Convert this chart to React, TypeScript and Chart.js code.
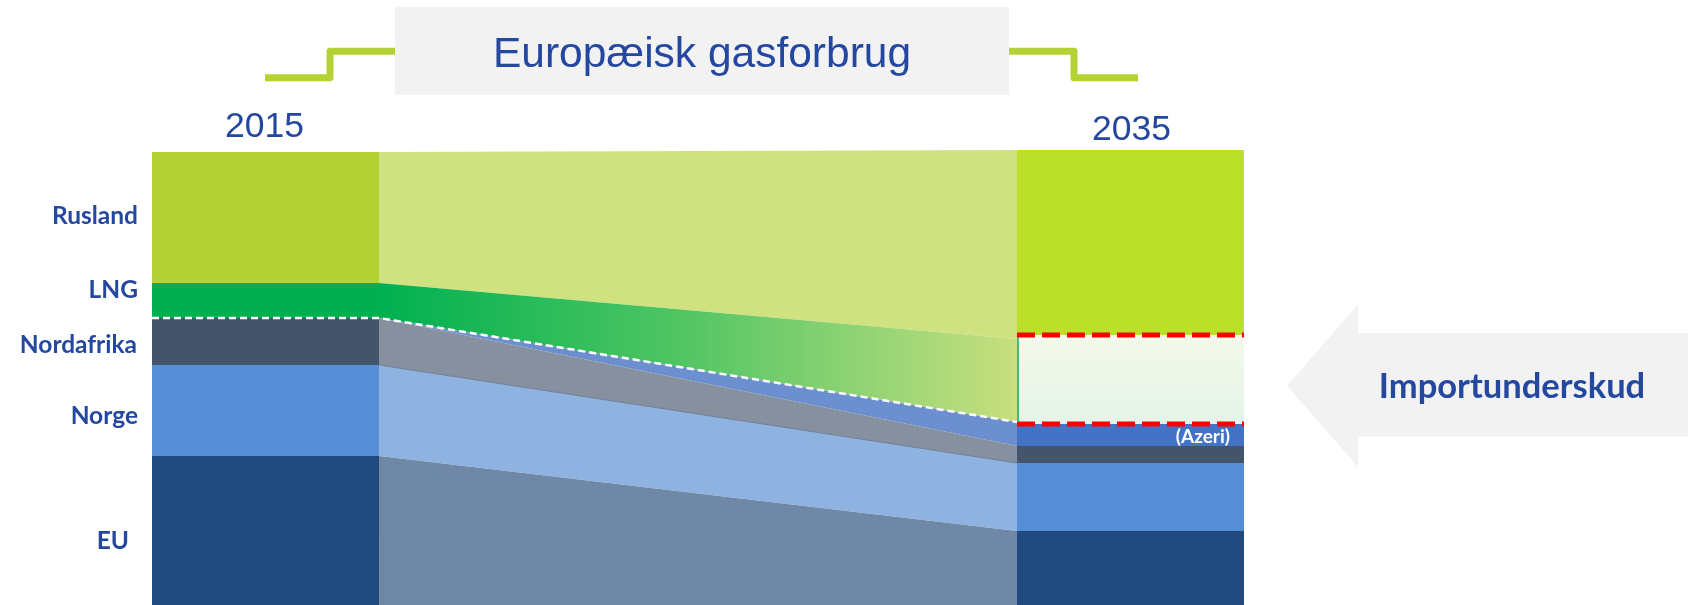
import React, { useEffect, useRef } from "react";
import { Chart, registerables } from "chart.js";

Chart.register(...registerables);

// ---------- DATA ----------
const years = ["2015", "2035"];
// stacked from the bottom up
const layerNames = ["EU", "Norge", "Nordafrika", "Azeri", "LNG", "Rusland"];
const layerNames2035 = ["EU", "Norge", "Nordafrika", "Azeri", "Importunderskud", "Rusland"];
const values2015 = [149, 91, 47, 0, 35, 131];
const transitionEnd = [74, 68, 17, 24, 83, 189];
const values2035 = [74, 68, 17, 22, 89, 185];
const sideLabels = ["Rusland", "LNG", "Nordafrika", "Norge", "EU"];
const titleText = "Europæisk gasforbrug";
const deficitText = "Importunderskud";
const azeriText = "(Azeri)";

// ---------- LAYOUT / STYLE ----------
const X_EDGES = [0, 1, 3.81, 4.81];
const Y_MAX = 455;
const BLUE_TEXT = "#2447a0";

const colors2015 = ["#214b7e", "#558ed5", "#44546a", "#4472c4", "#00b050", "#b4d234"];
const colorsMid = ["#6f88a8", "#8fb3e1", "#87909e", "#6c8fd0", "grad", "#d0e17f"];
const colors2035 = ["#214b7e", "#558ed5", "#44546a", "#4472c4", "vgrad", "#bcdf2a"];

const cum = (vals: number[]) => {
  let s = 0;
  return vals.map((v) => (s += v));
};

function lngGradient(ctx: any) {
  const chart = ctx.chart;
  if (!chart.chartArea) return "#6cc86a";
  const xs = chart.scales.x;
  const g = chart.ctx.createLinearGradient(
    xs.getPixelForValue(X_EDGES[1]), 0, xs.getPixelForValue(X_EDGES[2]), 0
  );
  g.addColorStop(0, "#00b050");
  g.addColorStop(0.45, "#4cc462");
  g.addColorStop(0.75, "#8fd374");
  g.addColorStop(1, "#c8df7d");
  return g;
}

function deficitGradient(ctx: any) {
  const chart = ctx.chart;
  if (!chart.chartArea) return "#eef7ea";
  const ys = chart.scales.y;
  const c = cum(values2035);
  const g = chart.ctx.createLinearGradient(0, ys.getPixelForValue(c[4]), 0, ys.getPixelForValue(c[3]));
  g.addColorStop(0, "#f4f9ea");
  g.addColorStop(1, "#e3f4e8");
  return g;
}

function regionDatasets(
  x0: number, x1: number, start: number[], end: number[], cols: string[], names: string[], year: string
) {
  const s = cum(start);
  const e = cum(end);
  return names.map((name, i) => {
    let bg: any = cols[i];
    if (bg === "grad") bg = lngGradient;
    if (bg === "vgrad") bg = deficitGradient;
    const isMid = cols === colorsMid;
    return {
      label: `${name} ${year}`,
      data: [{ x: x0, y: s[i] }, { x: x1, y: e[i] }],
      fill: i === 0 ? "origin" : "-1",
      backgroundColor: bg,
      borderColor: isMid && i === 1 ? "#6b7d99" : "rgba(0,0,0,0)",
      borderWidth: isMid && i === 1 ? 1 : 0,
      pointRadius: 0,
      tension: 0,
    };
  });
}

export default function App() {
  const ref = useRef<HTMLCanvasElement | null>(null);

  useEffect(() => {
    if (!ref.current) return;
    const c15 = cum(values2015);
    const cMid = cum(transitionEnd);
    const c35 = cum(values2035);

    const datasets: any[] = [
      ...regionDatasets(X_EDGES[0], X_EDGES[1], values2015, values2015, colors2015, layerNames, years[0]),
      ...regionDatasets(X_EDGES[1], X_EDGES[2], values2015, transitionEnd, colorsMid, layerNames, "overgang"),
      ...regionDatasets(X_EDGES[2], X_EDGES[3], values2035, values2035, colors2035, layerNames2035, years[1]),
      {
        label: "LNG grænse",
        data: [
          { x: X_EDGES[0], y: c15[3] },
          { x: X_EDGES[1], y: c15[3] },
          { x: X_EDGES[2], y: cMid[3] },
        ],
        fill: false,
        borderColor: "#ffffff",
        borderWidth: 2.5,
        borderDash: [7, 4],
        pointRadius: 0,
        order: -1,
      },
      {
        label: "Importunderskud top",
        data: [{ x: X_EDGES[2], y: c35[4] }, { x: X_EDGES[3], y: c35[4] }],
        fill: false,
        borderColor: "#ff0000",
        borderWidth: 5,
        borderDash: [18, 7],
        pointRadius: 0,
        order: -2,
      },
      {
        label: "Importunderskud bund",
        data: [{ x: X_EDGES[2], y: c35[3] }, { x: X_EDGES[3], y: c35[3] }],
        fill: false,
        borderColor: "#ff0000",
        borderWidth: 5,
        borderDash: [18, 7],
        pointRadius: 0,
        order: -2,
      },
    ];

    const overlay = {
      id: "overlay",
      afterDatasetsDraw(chart: any) {
        const ctx = chart.ctx;
        const xs = chart.scales.x;
        const ys = chart.scales.y;
        ctx.save();
        ctx.strokeStyle = "#00b050";
        ctx.lineWidth = 1.5;
        const ex = xs.getPixelForValue(X_EDGES[2]) + 1;
        ctx.beginPath();
        ctx.moveTo(ex, ys.getPixelForValue(c35[4]) + 2);
        ctx.lineTo(ex, ys.getPixelForValue(c35[3]) - 2);
        ctx.stroke();
        ctx.restore();
      },
      afterDraw(chart: any) {
        const ctx = chart.ctx;
        const xs = chart.scales.x;
        ctx.save();

        // title box
        ctx.fillStyle = "#f2f2f2";
        ctx.fillRect(395, 7, 614, 88);
        ctx.fillStyle = BLUE_TEXT;
        ctx.font = '42.5px "Liberation Sans", Arial, sans-serif';
        ctx.textAlign = "center";
        ctx.textBaseline = "alphabetic";
        ctx.fillText(titleText, 702, 66.5);

        // step lines
        ctx.strokeStyle = "#b4d234";
        ctx.lineWidth = 7;
        ctx.lineJoin = "round";
        ctx.lineCap = "butt";
        ctx.beginPath();
        ctx.moveTo(265, 77.7);
        ctx.lineTo(330, 77.7);
        ctx.lineTo(330, 51.3);
        ctx.lineTo(395, 51.3);
        ctx.stroke();
        ctx.beginPath();
        ctx.moveTo(1009, 51.3);
        ctx.lineTo(1074, 51.3);
        ctx.lineTo(1074, 77.7);
        ctx.lineTo(1138, 77.7);
        ctx.stroke();

        // years
        ctx.fillStyle = BLUE_TEXT;
        ctx.font = '35.5px "Liberation Sans", Arial, sans-serif';
        ctx.textAlign = "center";
        const lc = (xs.getPixelForValue(X_EDGES[0]) + xs.getPixelForValue(X_EDGES[1])) / 2;
        const rc = (xs.getPixelForValue(X_EDGES[2]) + xs.getPixelForValue(X_EDGES[3])) / 2;
        ctx.fillText(years[0], lc - 1, 137.3);
        ctx.fillText(years[1], rc + 1, 140.3);

        // side labels
        ctx.font = 'bold 24.5px Lato, "Open Sans", sans-serif';
        ctx.textAlign = "right";
        const baselines = [224.3, 297.7, 353, 424, 549];
        const rights = [138, 138, 137, 138, 129];
        sideLabels.forEach((t, i) => ctx.fillText(t, rights[i], baselines[i]));

        // arrow
        ctx.fillStyle = "#f2f2f2";
        ctx.beginPath();
        ctx.moveTo(1287, 386);
        ctx.lineTo(1358, 304);
        ctx.lineTo(1358, 333.3);
        ctx.lineTo(1688, 333.3);
        ctx.lineTo(1688, 436.7);
        ctx.lineTo(1358, 436.7);
        ctx.lineTo(1358, 467);
        ctx.closePath();
        ctx.fill();
        ctx.fillStyle = BLUE_TEXT;
        ctx.font = 'bold 34.5px Lato, "Open Sans", sans-serif';
        ctx.textAlign = "center";
        ctx.fillText(deficitText, 1512, 398.3);

        // azeri label
        ctx.fillStyle = "#ffffff";
        ctx.font = 'bold 19px Lato, "Open Sans", sans-serif';
        ctx.textAlign = "right";
        ctx.fillText(azeriText, 1230, 442.5);

        ctx.restore();
      },
    };

    const chart = new Chart(ref.current, {
      type: "line",
      data: { datasets },
      options: {
        animation: false,
        responsive: false,
        maintainAspectRatio: false,
        layout: { padding: { left: 152, right: 444, top: 150, bottom: 0 } },
        scales: {
          x: { type: "linear", min: X_EDGES[0], max: X_EDGES[3], display: false },
          y: { type: "linear", min: 0, max: Y_MAX, display: false },
        },
        plugins: {
          legend: { display: false },
          tooltip: { enabled: false },
          filler: { propagate: false },
        },
        elements: { point: { radius: 0 }, line: { tension: 0 } },
      },
      plugins: [overlay],
    } as any);

    return () => chart.destroy();
  }, []);

  return (
    <div style={{ position: "absolute", left: 0, top: 0, width: 1688, height: 605, background: "#ffffff" }}>
      <canvas ref={ref} width={1688} height={605} style={{ display: "block" }} />
    </div>
  );
}
